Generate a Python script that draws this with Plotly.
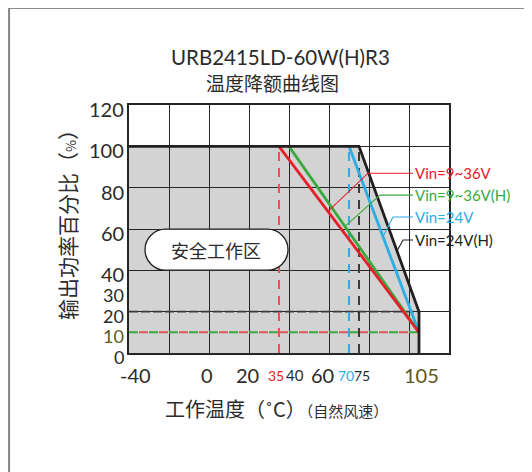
import numpy as np
import plotly.graph_objects as go

# ---------------- data ----------------
title_main = "URB2415LD-60W(H)R3"
title_sub = "温度降额曲线图"

series_names = ["Vin=9~36V", "Vin=9~36V(H)", "Vin=24V", "Vin=24V(H)"]
red_x = [35, 105]
red_y = [100, 10]
green_x = [40, 105]
green_y = [100, 10]
cyan_x = [70, 105]
cyan_y = [100, 10]
black_x = [-40, 75, 105, 105]
black_y = [100, 100, 20, 0]

# reference dashed guides
ref_temps = [35, 70, 75]          # vertical dashed guides (°C)
ref_temp_top = 100
ref_levels = [10, 20]             # horizontal dashed guides (%)
ref_level_end = 105

x_tick_vals = [-40, 0, 20, 35, 40, 60, 70, 75, 105]
x_tick_text = ["-40", "0", "20", "35", "40", "60", "70", "75", "105"]
y_tick_vals = [0, 10, 20, 30, 40, 60, 80, 100, 120]
y_tick_text = ["0", "10", "20", "30", "40", "60", "80", "100", "120"]

safe_label = "安全工作区"
x_title = "工作温度（˚C）"
x_note = "（自然风速）"
y_title = "输出功率百分比（%）"

# ---------------- style / layout ----------------
OFF = 8                     # page body margin of the html page
W, H = 532 - OFF, 472 - OFF
ML = 129 - OFF
MT = 105 - OFF
MR = W - (449 - OFF)
MB = H - (353 - OFF)
PW, PH = W - ML - MR, H - MT - MB

RED = "#e4202a"
GREEN = "#3aaa3f"
CYAN = "#2aaee4"
BLACK = "#231f20"
GRAY_FILL = "#d3d3d3"
TXT = "#2b2b2b"
OLIVE = "#5e5722"
FONT = "Lato, 'Noto Sans CJK SC', sans-serif"
CJK = "'Noto Sans CJK SC', Lato, sans-serif"


def px_x(p):
    """page pixel x -> paper x"""
    return (p - OFF - ML) / PW


def px_y(p):
    """page pixel y -> paper y"""
    return (H - MB - (p - OFF)) / PH


fig = go.Figure()

# gray safe area under the outer (black) curve, below gridlines
path = "M " + " L ".join(f"{x},{y}" for x, y in zip(black_x, black_y)) + f" L {black_x[0]},0 Z"
fig.add_shape(type="path", path=path, xref="x", yref="y", layer="below",
              fillcolor=GRAY_FILL, line=dict(width=0))

# horizontal dashed guides
fig.add_trace(go.Scatter(x=[-40, ref_level_end], y=[ref_levels[1]] * 2, mode="lines",
                         line=dict(color="#3a3a3a", width=1.6, dash="9px,3px"),
                         hoverinfo="skip", showlegend=False))
fig.add_trace(go.Scatter(x=[-40, ref_level_end], y=[ref_levels[0]] * 2, mode="lines",
                         line=dict(color=GREEN, width=2, dash="9px,11px"),
                         hoverinfo="skip", showlegend=False))
fig.add_trace(go.Scatter(x=[-35, ref_level_end], y=[ref_levels[0]] * 2, mode="lines",
                         line=dict(color="#e0555a", width=2, dash="9px,11px"),
                         hoverinfo="skip", showlegend=False))

# vertical dashed guides
for t, c in zip(ref_temps, ["#e0555a", CYAN, "#3a3a3a"]):
    fig.add_trace(go.Scatter(x=[t, t], y=[0, ref_temp_top], mode="lines",
                             line=dict(color=c, width=2, dash="9px,7px"),
                             hoverinfo="skip", showlegend=False))

# derating curves
curves = [(cyan_x, cyan_y, CYAN), (green_x, green_y, GREEN),
          (red_x, red_y, RED), (black_x, black_y, BLACK)]
for xs, ys, c in curves:
    fig.add_trace(go.Scatter(x=xs, y=ys, mode="lines",
                             line=dict(color=c, width=2.8),
                             hoverinfo="skip", showlegend=False))

# leader lines + labels
series_xy = [(red_x, red_y), (green_x, green_y), (cyan_x, cyan_y), (black_x[1:3], black_y[1:3])]
series_colors = [RED, GREEN, CYAN, BLACK]
leader_at_x = [59.5, 68, 87, 94]
elbow_x = [79.5, 85.5, 92, 97]
label_y = [87, 76.4, 65.8, 54.7]
label_x = 102
for (xs, ys), c, ax, ex, ly, name in zip(series_xy, series_colors, leader_at_x,
                                         elbow_x, label_y, series_names):
    ay = float(np.interp(ax, xs, ys))
    fig.add_trace(go.Scatter(x=[ax, ex, label_x], y=[ay, ly, ly], mode="lines",
                             line=dict(color=c, width=1.1),
                             hoverinfo="skip", showlegend=False))
    fig.add_annotation(x=label_x, y=ly, xref="x", yref="y", text=name,
                       showarrow=False, xanchor="left", yanchor="middle", xshift=0,
                       font=dict(family=FONT, size=15, color=c))

# safe-area pill
hw, hh = 71.5, 20.5
r = hh
k = 0.5523 * r
s = hw - r
pill = (f"M {-s},{-hh} L {s},{-hh} C {s + k},{-hh} {hw},{-k} {hw},0 "
        f"C {hw},{k} {s + k},{hh} {s},{hh} L {-s},{hh} "
        f"C {-s - k},{hh} {-hw},{k} {-hw},0 C {-hw},{-k} {-s - k},{-hh} {-s},{-hh} Z")
fig.add_shape(type="path", path=pill, xref="x", yref="y", xsizemode="pixel",
              ysizemode="pixel", xanchor=3.75, yanchor=50,
              fillcolor="white", line=dict(color=BLACK, width=1.3), layer="above")
fig.add_annotation(x=3.5, y=50, xref="x", yref="y", text=safe_label, showarrow=False,
                   xanchor="center", yanchor="middle",
                   font=dict(family=CJK, size=18, color=TXT))

# x tick labels
x_shift = [6, -2, -2, -3, 6, -7, -3, 3, 2]
x_size = [20, 20, 20, 14, 15, 20, 14, 14, 20]
x_color = [TXT, TXT, TXT, RED, TXT, TXT, CYAN, TXT, OLIVE]
for v, t, sh, sz, c in zip(x_tick_vals, x_tick_text, x_shift, x_size, x_color):
    fig.add_annotation(x=v, y=px_y(375), xref="x", yref="paper", text=t, showarrow=False,
                       xanchor="center", yanchor="middle", xshift=sh,
                       font=dict(family=FONT, size=sz, color=c))

# y tick labels (the tightly packed low ones are slightly smaller)
for v, t in zip(y_tick_vals, y_tick_text):
    fig.add_annotation(x=px_x(125), y=v, xref="paper", yref="y", text=t, showarrow=False,
                       xanchor="right", yanchor="middle", yshift=-4, borderpad=0,
                       font=dict(family=FONT, size=20 if v >= 40 else 18,
                                 color=OLIVE if t == "10" else TXT))

# titles
fig.add_annotation(x=px_x(280), y=px_y(57), xref="paper", yref="paper", text=title_main,
                   showarrow=False, xanchor="center", yanchor="middle",
                   font=dict(family=FONT, size=20.5, color=TXT))
fig.add_annotation(x=px_x(272), y=px_y(82), xref="paper", yref="paper", text=title_sub,
                   showarrow=False, xanchor="center", yanchor="middle",
                   font=dict(family=CJK, size=19, color=TXT))
fig.add_annotation(x=px_x(276), y=px_y(408), xref="paper", yref="paper",
                   text=x_title + "<span style='font-size:15px'>" + x_note + "</span>",
                   showarrow=False, xanchor="center", yanchor="middle",
                   font=dict(family=CJK, size=20, color=TXT))
fig.add_annotation(x=px_x(67), y=px_y(220), xref="paper", yref="paper",
                   text=y_title.replace("%", "<span style='font-size:13px'>%</span>"),
                   textangle=-90, showarrow=False, xanchor="center", yanchor="middle",
                   font=dict(family=CJK, size=21, color=TXT))

# outer frame (left and top)
fig.add_shape(type="line", xref="paper", yref="paper", x0=px_x(9), x1=px_x(9),
              y0=px_y(7), y1=px_y(H + OFF + 5), line=dict(color="#8a8a8a", width=2.2))
fig.add_shape(type="line", xref="paper", yref="paper", x0=px_x(9), x1=px_x(W + OFF + 5),
              y0=px_y(8), y1=px_y(8), line=dict(color="#8a8a8a", width=2.2))

axis_common = dict(showgrid=True, gridcolor="#262626", gridwidth=1.3,
                   showline=True, linecolor="#262626", linewidth=1.6, mirror=True,
                   zeroline=False, showticklabels=False, ticks="", fixedrange=True)
fig.update_layout(
    width=W, height=H,
    margin=dict(l=ML, r=MR, t=MT, b=MB),
    paper_bgcolor="white", plot_bgcolor="white",
    xaxis=dict(range=[-40, 120], tick0=-40, dtick=20, **axis_common),
    yaxis=dict(range=[0, 120], tick0=0, dtick=20, **axis_common),
    showlegend=False,
)

fig.write_html("out.html", config={"displayModeBar": False})
